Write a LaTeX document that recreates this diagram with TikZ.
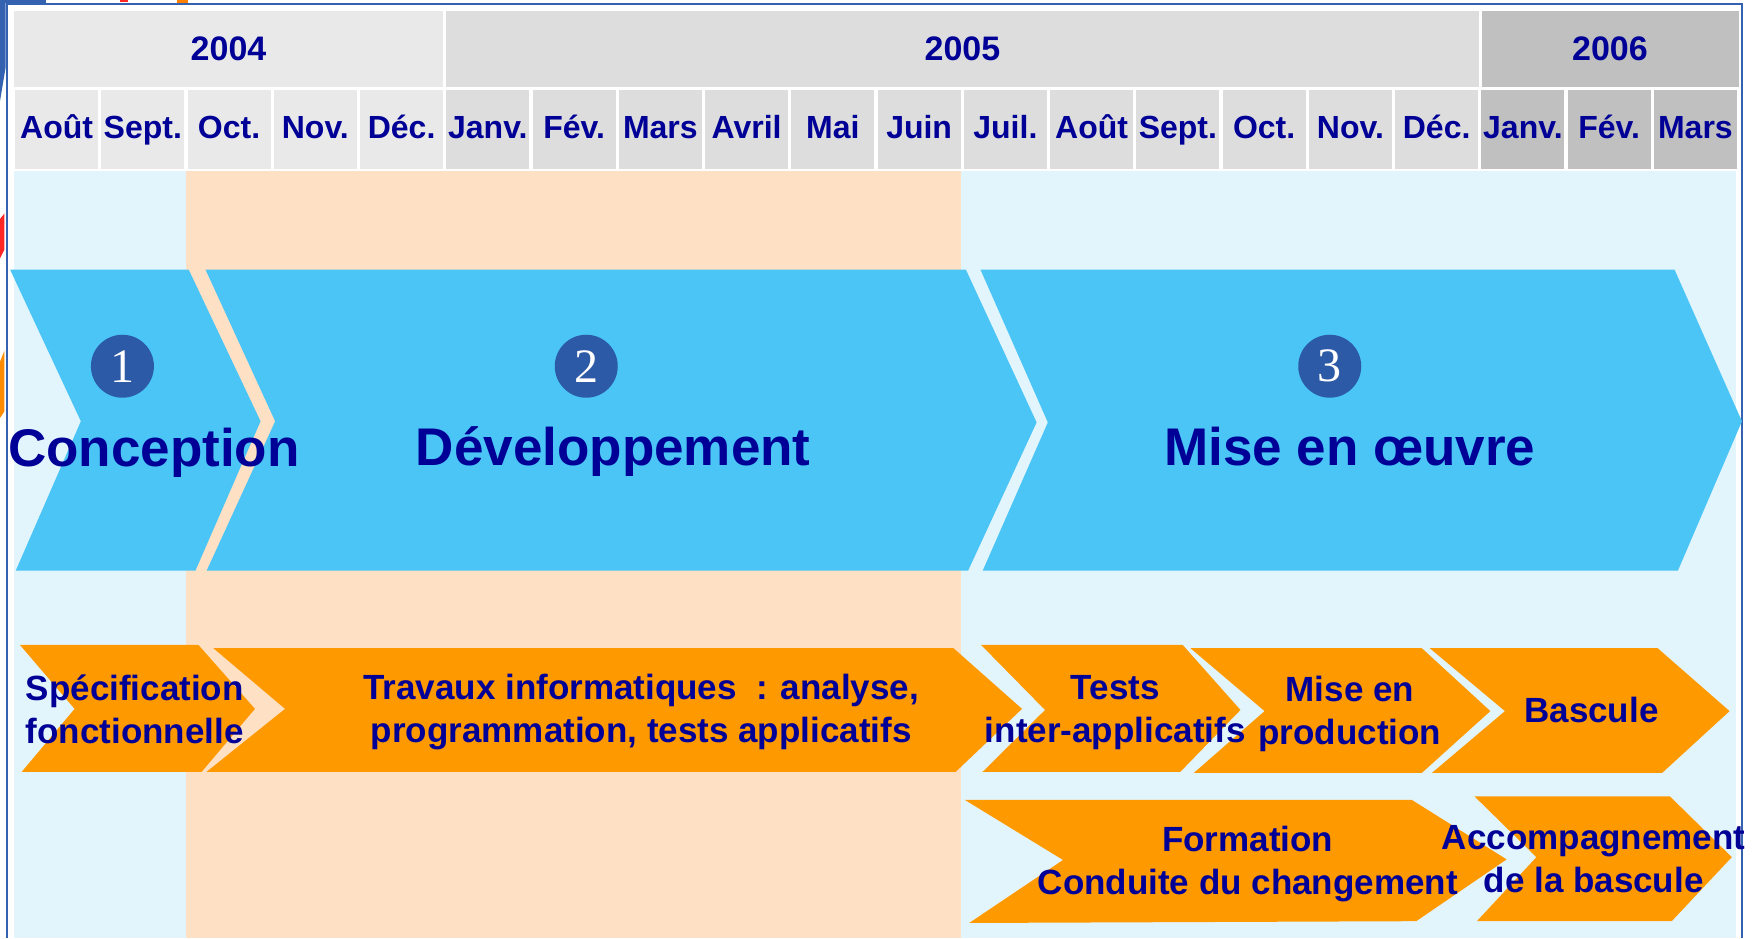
\documentclass[tikz,border=0pt]{standalone}
\usepackage{fontspec}
\setmainfont{Liberation Sans}
\newfontfamily\serifnum{Liberation Serif}
\definecolor{navy}{RGB}{0,0,150}
\definecolor{yA}{RGB}{233,233,233}
\definecolor{yB}{RGB}{221,221,221}
\definecolor{yC}{RGB}{192,192,192}
\definecolor{bodyblue}{RGB}{227,245,252}
\definecolor{peach}{RGB}{254,224,196}
\definecolor{chevblue}{RGB}{74,197,246}
\definecolor{orangec}{RGB}{255,153,0}
\definecolor{circblue}{RGB}{44,90,166}
\definecolor{frameblue}{RGB}{52,98,176}
\tikzset{
  monthlbl/.style={text=navy, font=\bfseries\fontsize{32}{38}\selectfont, anchor=base, inner sep=0pt},
  yearlbl/.style={text=navy, font=\bfseries\fontsize{34}{40}\selectfont, anchor=base, inner sep=0pt},
  phaselbl/.style={text=navy, font=\bfseries\fontsize{53}{60}\selectfont, anchor=base, inner sep=0pt},
  tasklbl/.style={text=navy, font=\bfseries\fontsize{35}{43}\selectfont, align=center, inner sep=0pt},
  bigchev/.style={fill=chevblue},
  taskchev/.style={fill=orangec},
  numdisc/.style={circle, fill=circblue, minimum size=63pt, inner sep=0pt, text=white, font=\serifnum\fontsize{48}{50}\selectfont},
  framestroke/.style={draw=frameblue, line width=2.2pt}
}
\begin{document}
\begin{tikzpicture}[x=1.1231pt, y=-1.1234pt]
\useasboundingbox (0,0) rectangle (1568,835);
\fill[white] (0,0) rectangle (1568,835);
% stray decorations at the edge
\fill[frameblue] (0,0) rectangle (41,2.5);
\fill[frameblue] (0,0) -- (5,0) -- (5,60) -- (0,90) -- cycle;
\fill[red!85] (107,0) rectangle (114,2);
\fill[orange] (158,0) rectangle (167,2.5);
\fill[red!85] (0,195) -- (4,190) -- (4,222) -- (0,230) -- cycle;
\fill[orange!90!yellow] (0,322) -- (4,312) -- (4,366) -- (0,372) -- cycle;
% frame
\draw[framestroke] (6.5,835) -- (6.5,3.5) -- (1551,3.5) -- (1551,835);
% header years
\fill[yA] (12.5,10) rectangle (394.5,77.5);
\fill[yB] (397.5,10) rectangle (1316.5,77.5);
\fill[yC] (1319.5,10) rectangle (1548,77.5);
\node[yearlbl] (y2004) at (203.5,54) {2004};
\node[yearlbl] (y2005) at (857,54) {2005};
\node[yearlbl] (y2006) at (1433.5,54) {2006};
% months
\foreach \m [count=\i from 0] in {Août,Sept.,Oct.,Nov.,Déc.,Janv.,Fév.,Mars,Avril,Mai,Juin,Juil.,Août,Sept.,Oct.,Nov.,Déc.,Janv.,Fév.,Mars}{
  \ifnum\i<5 \def\cc{yA}\else\ifnum\i<17 \def\cc{yB}\else\def\cc{yC}\fi\fi
  \pgfmathsetmacro\xa{12+\i*76.8+1.5}
  \pgfmathsetmacro\xb{12+(\i+1)*76.8-1.5}
  \fill[\cc] (\xa,80) rectangle (\xb,150);
  \node[monthlbl] (m\i) at ({(\xa+\xb)/2},123) {\m};
}
% body
\fill[bodyblue] (12.5,152) rectangle (1546,835);
\fill[peach] (166,152) rectangle (855.5,835);
% big chevrons
\fill[bigchev] (9,240) -- (168,240) -- (232,375) -- (174,508) -- (14,508) -- (72,375) -- cycle;
\fill[bigchev] (183,240) -- (860,240) -- (923,376) -- (862,508) -- (184,508) -- (245,375) -- cycle;
\fill[bigchev] (873,240) -- (1491,240) -- (1551,375) -- (1494,508) -- (875,508) -- (933,376) -- cycle;
\node[numdisc] (n1) at (109,326) {1};
\node[numdisc] (n2) at (522,326) {2};
\node[numdisc] (n3) at (1184,326) {3};
\node[phaselbl] (p1) at (137,415) {Conception};
\node[phaselbl] (p2) at (546,414) {Développement};
\node[phaselbl] (p3) at (1202,414) {Mise en œuvre};
% task chevrons row 1
\fill[taskchev] (17.7,574) -- (176.6,574) -- (227,631) -- (179.6,687) -- (19.4,687) -- (66.4,631) -- cycle;
\fill[taskchev] (190,577) -- (849,577) -- (910,631) -- (851,687) -- (184,687) -- (253.8,631) -- cycle;
\fill[taskchev] (873.5,574) -- (1053,574) -- (1104.5,632) -- (1051,687) -- (875,687) -- (930.5,632) -- cycle;
\fill[taskchev] (1060,577) -- (1266,577) -- (1327,633) -- (1266,688) -- (1063,688) -- (1126,633) -- cycle;
\fill[taskchev] (1273,577) -- (1476,577) -- (1540,633) -- (1480,688) -- (1275,688) -- (1340,633) -- cycle;
% row 2
\fill[taskchev] (859,712) -- (1257,712) -- (1341.5,765) -- (1261,820) -- (863,821.6) -- (946.5,765.5) -- cycle;
\fill[taskchev] (1313,709) -- (1487,709) -- (1542,763) -- (1488.5,820) -- (1315,820) -- (1368,763) -- cycle;
% task labels
\node[tasklbl] (t1) at (120,631) {Spécification\\fonctionnelle};
\node[tasklbl] (t2) at (571,634) {Travaux informatiques\ \ : analyse,\\programmation, tests applicatifs};
\node[tasklbl] (t3) at (993,634.5) {Tests\\inter-applicatifs};
\node[tasklbl] (t4) at (1202,635.5) {Mise en\\production};
\node[tasklbl] (t5) at (1417,632) {Bascule};
\node[tasklbl] (t6) at (1111,769) {Formation\\Conduite du changement};
\node[tasklbl] (t7) at (1419,765) {Accompagnement\\de la bascule};
\end{tikzpicture}
\end{document}
